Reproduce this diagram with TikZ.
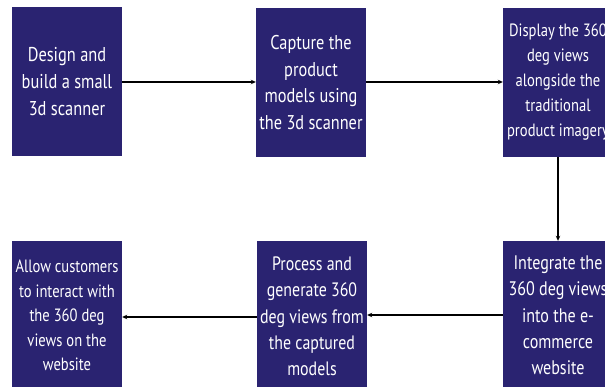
\documentclass[tikz,border=0pt]{standalone}
\usepackage{fontspec}
\setmainfont{PT Sans}[FakeStretch=0.82]
\usetikzlibrary{arrows.meta}
\definecolor{navy}{HTML}{2A2371}
\tikzset{
  box/.style={fill=navy, draw=none, minimum width=110pt, minimum height=149pt, inner sep=0pt},
  txt/.style={text=white, align=center, inner sep=0pt},
  flow/.style={draw=black, line width=1.1pt, -{Stealth[length=5pt,width=4.5pt]}}
}
\begin{document}
\begin{tikzpicture}[x=1pt,y=-1pt]
\useasboundingbox (0,0) rectangle (605,387);
\clip (0,0) rectangle (605,387);
\fill[white] (0,0) rectangle (605,387);
\node[box] (b1) at (67,81.5) {};
\node[box] (b2) at (311,82.5) {};
\node[box] (b3) at (558,82.5) {};
\node[box] (b4) at (558,315.5) {};
\node[box] (b5) at (312,315.5) {};
\node[box] (b6) at (67,315.5) {};
\node[txt, font=\fontsize{20}{27}\selectfont] (t1) at (b1) {Design and\\build a small\\3d scanner};
\node[txt, font=\fontsize{19.9}{26.7}\selectfont] (t2) at (b2) {Capture the\\product\\models using\\the 3d scanner};
\node[txt, font=\fontsize{17.8}{25}\selectfont] (t3) at (b3) {Display the 360\\deg views\\alongside the\\traditional\\product imagery};
\node[txt, font=\fontsize{19.6}{26.3}\selectfont] (t4) at (b4) {Integrate the\\360 deg views\\into the e-\\commerce\\website};
\node[txt, font=\fontsize{19.4}{26.3}\selectfont] (t5) at ([yshift=-1pt]b5) {Process and\\generate 360\\deg views from\\the captured\\models};
\node[txt, font=\fontsize{17.8}{24.5}\selectfont] (t6) at (b6) {Allow customers\\to interact with\\the 360 deg\\views on the\\website};
\draw[flow] (b1.east |- 0,82) -- (b2.west |- 0,82);
\draw[flow] (b2.east |- 0,82) -- (b3.west |- 0,82);
\draw[flow] (b3.south) -- (b4.north);
\draw[flow] (b4.west |- 0,315) -- (b5.east |- 0,315);
\draw[flow] (b5.west |- 0,317) -- (b6.east |- 0,317);
\end{tikzpicture}
\end{document}
